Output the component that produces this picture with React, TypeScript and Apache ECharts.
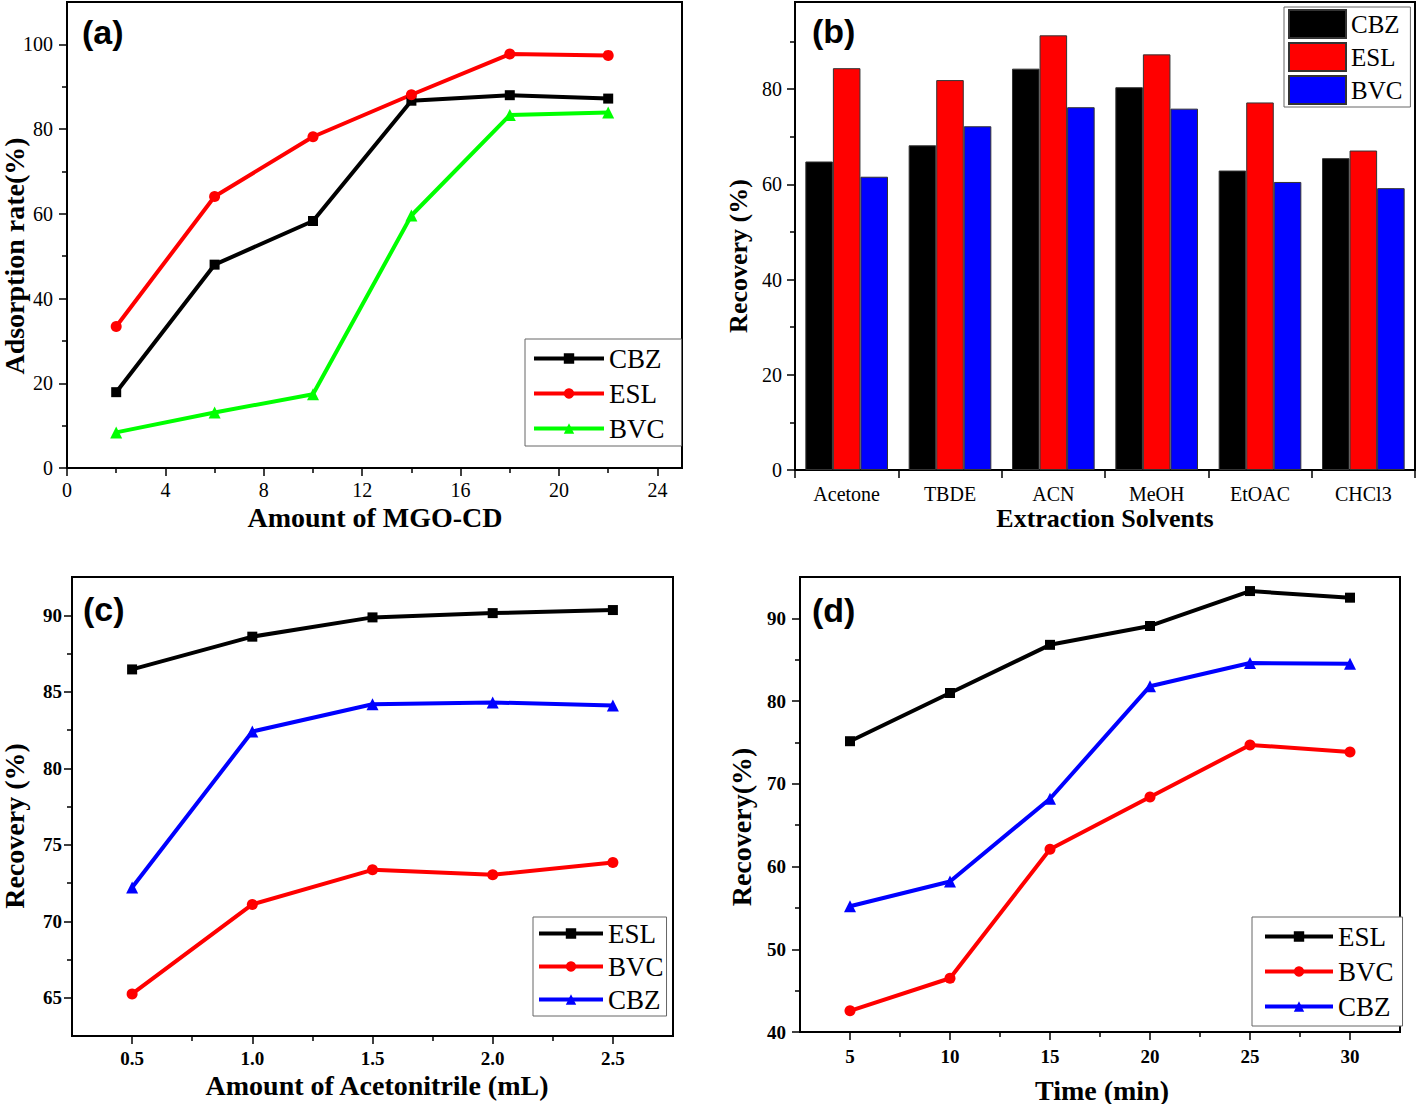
import React, { useEffect, useRef } from 'react';
import * as echarts from 'echarts';

// ---------- (a) Amount of MGO-CD ----------
const aX = [2, 6, 10, 14, 18, 22];
const aCBZ = [17.9, 48.0, 58.3, 86.7, 88.0, 87.2];
const aESL = [33.4, 64.1, 78.2, 88.1, 97.7, 97.4];
const aBVC = [8.4, 13.1, 17.4, 59.6, 83.3, 83.9];
const aXTicks = [0, 4, 8, 12, 16, 20, 24];
const aXMinor = [2, 6, 10, 14, 18, 22];
const aYTicks = [0, 20, 40, 60, 80, 100];
const aYMinor = [10, 30, 50, 70, 90];

// ---------- (b) Extraction solvents ----------
const bCategories = ['Acetone', 'TBDE', 'ACN', 'MeOH', 'EtOAC', 'CHCl3'];
const bCBZ = [64.8, 68.2, 84.3, 80.4, 62.9, 65.5];
const bESL = [84.4, 81.9, 91.3, 87.3, 77.2, 67.1];
const bBVC = [61.6, 72.2, 76.2, 75.9, 60.5, 59.2];
const bYTicks = [0, 20, 40, 60, 80];
const bYMinor = [10, 30, 50, 70, 90];

// ---------- (c) Amount of acetonitrile ----------
const cX = [0.5, 1.0, 1.5, 2.0, 2.5];
const cESL = [86.46, 88.6, 89.86, 90.14, 90.34];
const cBVC = [65.25, 71.1, 73.36, 73.04, 73.84];
const cCBZ = [72.2, 82.4, 84.18, 84.3, 84.1];
const cXTicks = [0.5, 1.0, 1.5, 2.0, 2.5];
const cXMinor = [0.75, 1.25, 1.75, 2.25];
const cYTicks = [65, 70, 75, 80, 85, 90];
const cYMinor = [67.5, 72.5, 77.5, 82.5, 87.5];

// ---------- (d) Time ----------
const dX = [5, 10, 15, 20, 25, 30];
const dESL = [75.15, 80.98, 86.8, 89.08, 93.3, 92.5];
const dBVC = [42.56, 46.5, 62.1, 68.4, 74.7, 73.85];
const dCBZ = [55.2, 58.2, 68.2, 81.8, 84.6, 84.5];
const dXTicks = [5, 10, 15, 20, 25, 30];
const dXMinor = [7.5, 12.5, 17.5, 22.5, 27.5];
const dYTicks = [40, 50, 60, 70, 80, 90];
const dYMinor = [45, 55, 65, 75, 85];

const SERIF = '"Liberation Serif", "Times New Roman", serif';
const SANS = '"Liberation Sans", Arial, sans-serif';

function valueAxes(
  dim: 'x' | 'y',
  gridIndex: number,
  min: number,
  max: number,
  ticks: number[],
  minor: number[],
  bold: boolean,
  fontSize: number,
  margin: number,
  fmt?: (v: number) => string
) {
  const position = dim === 'x' ? 'bottom' : 'left';
  const main: any = {
    type: 'value',
    gridIndex,
    min,
    max,
    position,
    splitLine: { show: false },
    axisLine: { show: true, onZero: false, lineStyle: { color: '#000', width: 2 } },
    axisTick: { show: true, inside: false, length: 8, customValues: ticks, lineStyle: { color: '#000', width: 1.5 } },
    axisLabel: {
      show: true,
      customValues: ticks,
      margin,
      color: '#000',
      fontFamily: SERIF,
      fontSize,
      fontWeight: bold ? 'bold' : 'normal',
      formatter: fmt ? (v: number) => fmt(v) : (v: number) => String(v),
    },
  };
  const minorAxis: any = {
    type: 'value',
    gridIndex,
    min,
    max,
    position,
    splitLine: { show: false },
    axisLine: { show: false, onZero: false },
    axisTick: { show: true, inside: false, length: 5, customValues: minor, lineStyle: { color: '#000', width: 1.5 } },
    axisLabel: { show: false },
  };
  return [main, minorAxis];
}

function lineSeries(name: string, xi: number, yi: number, xs: number[], ys: number[], color: string, symbol: string, size: number) {
  return {
    name,
    type: 'line',
    xAxisIndex: xi,
    yAxisIndex: yi,
    data: xs.map((x, i) => [x, ys[i]]),
    symbol,
    symbolSize: size,
    showSymbol: true,
    lineStyle: { color, width: 4 },
    itemStyle: { color, borderWidth: 0 },
    z: 3,
  };
}

function barSeries(name: string, values: number[], color: string) {
  return {
    name,
    type: 'bar',
    xAxisIndex: 4,
    yAxisIndex: 2,
    data: values,
    barGap: '0%',
    barCategoryGap: '20%',
    itemStyle: { color, borderColor: '#333', borderWidth: 1 },
  };
}

const fmtName = (n: string) => n.split('|')[1];

function lineLegend(names: string[], left: number, top: number, padding: number[], itemWidth: number, lineHeight: number) {
  return {
    orient: 'vertical',
    left,
    top,
    padding,
    itemWidth,
    itemHeight: 13,
    itemGap: 0,
    selectedMode: false,
    borderColor: '#666',
    borderWidth: 1,
    backgroundColor: '#fff',
    formatter: fmtName,
    lineStyle: { width: 4 },
    textStyle: { fontFamily: SERIF, fontSize: 27, color: '#000', lineHeight },
    data: names,
  };
}

function title(text: string, x: number, y: number, size: number, vertical: boolean) {
  return {
    type: 'text',
    x,
    y,
    rotation: vertical ? Math.PI / 2 : 0,
    style: {
      text,
      fill: '#000',
      fontFamily: SERIF,
      fontWeight: 'bold',
      fontSize: size,
      align: 'center',
      verticalAlign: 'middle',
    },
  };
}

function panelLabel(text: string, x: number, y: number) {
  return {
    type: 'text',
    x,
    y,
    style: {
      text,
      fill: '#000',
      fontFamily: SANS,
      fontWeight: 'bold',
      fontSize: 34,
      align: 'left',
      verticalAlign: 'middle',
    },
  };
}

export default function App() {
  const ref = useRef<HTMLDivElement>(null);
  useEffect(() => {
    document.body.style.margin = '0';
    const chart = echarts.init(ref.current!, undefined, { renderer: 'svg' });

    const grids = [
      { left: 67, top: 2, width: 615, height: 466 },
      { left: 795, top: 2, width: 620, height: 468 },
      { left: 72, top: 577, width: 601, height: 459 },
      { left: 800, top: 577, width: 600, height: 455 },
    ].map((g) => ({ ...g, show: true, borderColor: '#000', borderWidth: 2, backgroundColor: 'transparent', containLabel: false }));

    const xv = [
      ...valueAxes('x', 0, 0, 25, aXTicks, aXMinor, false, 20, 12), // 0,1
      ...valueAxes('x', 2, 0.25, 2.75, cXTicks, cXMinor, true, 19, 13, (v) => v.toFixed(1)), // 2,3
      ...valueAxes('x', 3, 2.5, 32.5, dXTicks, dXMinor, true, 19, 15), // 5,6 after insert
    ];
    const xa: any[] = [xv[0], xv[1], xv[2], xv[3]];
    xa.push({
      type: 'category',
      gridIndex: 1,
      data: bCategories,
      position: 'bottom',
      axisLine: { show: true, lineStyle: { color: '#000', width: 2 } },
      axisTick: { show: true, inside: false, length: 8, alignWithLabel: false, lineStyle: { color: '#000', width: 1.5 } },
      axisLabel: { color: '#000', fontFamily: SERIF, fontSize: 20, margin: 14 },
      splitLine: { show: false },
    });
    xa.push(xv[4], xv[5]);

    const yAxis: any[] = [
      ...valueAxes('y', 0, 0, 110, aYTicks, aYMinor, false, 20, 14), // 0,1
      ...valueAxes('y', 1, 0, 98.3, bYTicks, bYMinor, false, 20, 13), // 2,3
      ...valueAxes('y', 2, 62.5, 92.5, cYTicks, cYMinor, true, 19, 10), // 4,5
      ...valueAxes('y', 3, 40, 95, dYTicks, dYMinor, true, 19, 14), // 6,7
    ];

    const series: any[] = [
      lineSeries('a|CBZ', 0, 0, aX, aCBZ, '#000000', 'rect', 10),
      lineSeries('a|ESL', 0, 0, aX, aESL, '#ff0000', 'circle', 11),
      lineSeries('a|BVC', 0, 0, aX, aBVC, '#00ff00', 'triangle', 12),
      barSeries('b|CBZ', bCBZ, '#000000'),
      barSeries('b|ESL', bESL, '#ff0000'),
      barSeries('b|BVC', bBVC, '#0000ff'),
      lineSeries('c|ESL', 2, 4, cX, cESL, '#000000', 'rect', 10),
      lineSeries('c|BVC', 2, 4, cX, cBVC, '#ff0000', 'circle', 11),
      lineSeries('c|CBZ', 2, 4, cX, cCBZ, '#0000ff', 'triangle', 12),
      lineSeries('d|ESL', 5, 6, dX, dESL, '#000000', 'rect', 10),
      lineSeries('d|BVC', 5, 6, dX, dBVC, '#ff0000', 'circle', 11),
      lineSeries('d|CBZ', 5, 6, dX, dCBZ, '#0000ff', 'triangle', 12),
    ];

    const legend: any[] = [
      lineLegend(['a|CBZ', 'a|ESL', 'a|BVC'], 525, 339, [2, 17, 0, 7], 70, 35),
      {
        orient: 'vertical',
        left: 1284,
        top: 7,
        padding: [2, 8, 2, 4],
        itemWidth: 57,
        itemHeight: 28,
        itemGap: 3,
        icon: 'rect',
        selectedMode: false,
        borderColor: '#666',
        borderWidth: 1,
        backgroundColor: '#fff',
        formatter: fmtName,
        textStyle: { fontFamily: SERIF, fontSize: 25, color: '#000', lineHeight: 28 },
        data: ['b|CBZ', 'b|ESL', 'b|BVC'],
      },
      lineLegend(['c|ESL', 'c|BVC', 'c|CBZ'], 533, 917, [0, 3, 0, 4], 64, 33),
      lineLegend(['d|ESL', 'd|BVC', 'd|CBZ'], 1252, 917, [2, 9, 2, 11], 68, 35),
    ];

    const graphic: any[] = [
      panelLabel('(a)', 82, 32),
      panelLabel('(b)', 812, 31),
      panelLabel('(c)', 83, 609),
      panelLabel('(d)', 812, 610),
      title('Adsorption rate(%)', 14, 256, 28, true),
      title('Amount of MGO-CD', 375, 517, 28, false),
      title('Recovery (%)', 738, 256, 26, true),
      title('Extraction Solvents', 1105, 518, 26, false),
      title('Recovery (%)', 14, 826, 28, true),
      title('Amount of Acetonitrile (mL)', 377, 1085, 28, false),
      title('Recovery(%)', 741, 827, 28, true),
      title('Time (min)', 1102, 1090, 28, false),
    ];

    chart.setOption({
      animation: false,
      backgroundColor: '#ffffff',
      grid: grids,
      xAxis: xa,
      yAxis,
      series,
      legend,
      graphic,
    });
    return () => chart.dispose();
  }, []);
  return <div ref={ref} style={{ width: 1418, height: 1104 }} />;
}
